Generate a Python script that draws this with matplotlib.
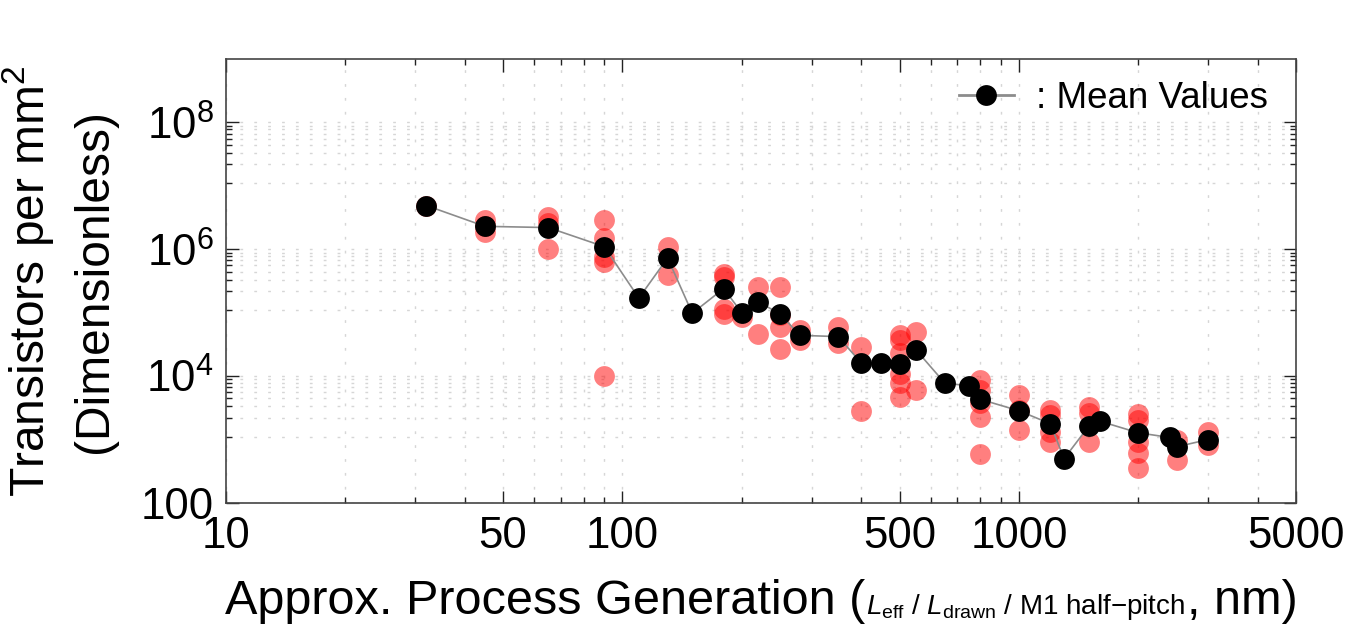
import matplotlib
matplotlib.use("Agg")
import matplotlib.pyplot as plt
from matplotlib.lines import Line2D
from matplotlib.offsetbox import TextArea, HPacker, AnchoredOffsetbox
import numpy as np

# ---------------- data ----------------
mean_nodes = [32, 45, 65, 90, 110, 130, 150, 180, 200, 220, 250, 280, 350, 400,
              450, 500, 550, 650, 750, 800, 1000, 1200, 1300, 1500, 1600, 2000,
              2400, 2500, 3000]
mean_values = [4.9e6, 2.3e6, 2.2e6, 1.1e6, 1.7e5, 7.3e5, 9.8e4, 2.4e5, 1.0e5,
               1.48e5, 9.6e4, 4.4e4, 4.2e4, 1.62e4, 1.62e4, 1.55e4, 2.6e4,
               7.8e3, 7.0e3, 4.3e3, 2.85e3, 1.78e3, 500, 1.62e3, 1.95e3,
               1.28e3, 1.08e3, 770, 1.0e3]

chip_nodes = [32,
              45, 45, 45,
              65, 65, 65,
              90, 90, 90, 90, 90,
              130, 130,
              180, 180, 180, 180,
              200,
              220, 220,
              250, 250, 250, 250,
              280, 280,
              350, 350,
              400, 400,
              500, 500, 500, 500, 500, 500,
              550, 550,
              800, 800, 800, 800, 800,
              1000, 1000, 1000,
              1200, 1200, 1200, 1200,
              1500, 1500, 1500,
              2000, 2000, 2000, 2000, 2000,
              2500, 2500,
              3000, 3000]
chip_values = [4.9e6,
               2.9e6, 1.9e6, 2.3e6,
               3.2e6, 2.6e6, 1.0e6,
               2.9e6, 1.5e6, 7.6e5, 6.3e5, 1.0e4,
               1.08e6, 3.9e5,
               4.1e5, 3.6e5, 1.16e5, 9.7e4,
               8.6e4,
               2.56e5, 4.7e4,
               2.56e5, 9.1e4, 6.0e4, 2.7e4,
               5.3e4, 3.7e4,
               6.0e4, 3.3e4,
               2.9e4, 2.85e3,
               4.4e4, 3.7e4, 2.3e4, 1.1e4, 7.7e3, 4.7e3,
               5.0e4, 6.0e3,
               8.6e3, 6.0e3, 3.8e3, 2.3e3, 590,
               5.0e3, 2.9e3, 1.4e3,
               2.9e3, 2.4e3, 1.3e3, 930,
               3.3e3, 2.6e3, 930,
               2.5e3, 2.0e3, 930, 620, 350,
               1.0e3, 475,
               1.3e3, 820]

x_major = [10, 50, 100, 500, 1000, 5000]
x_major_labels = ["10", "50", "100", "500", "1000", "5000"]
y_major = [1e2, 1e4, 1e6, 1e8]
y_major_labels = ["100", r"$\mathregular{10^{4}}$", r"$\mathregular{10^{6}}$",
                  r"$\mathregular{10^{8}}$"]

# ---------------- style ----------------
FONT = "Liberation Sans"
plt.rcParams["font.family"] = [FONT, "DejaVu Sans"]
plt.rcParams["mathtext.fontset"] = "custom"
plt.rcParams["mathtext.rm"] = FONT
plt.rcParams["mathtext.it"] = FONT + ":italic"
plt.rcParams["mathtext.bf"] = FONT + ":bold"

fig = plt.figure(figsize=(13.5, 6.25), dpi=100)
ax = fig.add_axes([226 / 1350, 1 - 503 / 625, (1296 - 226) / 1350, (503 - 59) / 625])

ax.set_xscale("log")
ax.set_yscale("log")
ax.set_xlim(10, 5000)
ax.set_ylim(100, 1e9)

# grid
grid_kw = dict(color="#d6d6d6", linewidth=1.0, linestyle=(0, (2, 8)))
ax.xaxis.grid(True, which="both", **grid_kw)
ax.yaxis.grid(True, which="both", **grid_kw)
ax.set_axisbelow(True)

# x ticks
ax.set_xticks(x_major)
ax.set_xticklabels(x_major_labels)
x_minor = []
for dec in [10, 100, 1000]:
    for j in range(2, 10):
        v = dec * j
        if v < 5000 and v not in x_major:
            x_minor.append(v)
ax.set_xticks(x_minor, minor=True)
ax.xaxis.set_minor_formatter(matplotlib.ticker.NullFormatter())

# y ticks
ax.set_yticks(y_major)
ax.set_yticklabels(y_major_labels)
y_minor = []
for M in [1e4, 1e6, 1e8]:
    for j in range(1, 9):
        y_minor.append(M * j / 9.0)
ax.set_yticks(y_minor, minor=True)
ax.yaxis.set_minor_formatter(matplotlib.ticker.NullFormatter())

ax.tick_params(which="both", direction="in", top=True, right=True,
               colors="#222222", width=1.0)
ax.tick_params(which="major", length=9, labelsize=31.5, pad=9, labelcolor="black")
ax.tick_params(which="minor", length=4)
for s in ax.spines.values():
    s.set_color("#444444")
    s.set_linewidth(1.2)

# data
ax.plot(chip_nodes, chip_values, linestyle="none", marker="o", markersize=15,
        color="red", alpha=0.5, markeredgewidth=0, zorder=2)
ax.plot(mean_nodes, mean_values, color="#8c8c8c", linewidth=1.2, marker="o",
        markersize=15, markerfacecolor="black", markeredgecolor="black",
        markeredgewidth=0, zorder=3)

# legend
handle = Line2D([], [], color="#8c8c8c", linewidth=2, marker="o", markersize=15,
                markerfacecolor="black", markeredgecolor="black", markeredgewidth=0)
ax.legend([handle], [": Mean Values"], loc="center right",
          bbox_to_anchor=(1268 / 1350, 1 - 98 / 625), bbox_transform=fig.transFigure,
          frameon=False, fontsize=26.5, handlelength=1.5, handletextpad=0.6,
          borderpad=0, borderaxespad=0)

# y label (two centered lines)
fig.text(28 / 1350, 1 - 281 / 625, r"Transistors per mm$^{\mathregular{2}}$",
         rotation=90, ha="center", va="center", fontsize=34.5)
fig.text(95 / 1350, 1 - 281 / 625, "(Dimensionless)",
         rotation=90, ha="center", va="center", fontsize=34.5)

# x label with mixed sizes
big = dict(size=35, color="black", family=FONT)
small = dict(size=20, color="black", family=FONT)
small_text = (r"$L_{\mathregular{eff}}$ / $L_{\mathregular{drawn}}$ / M1 half"
              + "\u2212" + "pitch")
parts = [TextArea("Approx. Process Generation (", textprops=big),
         TextArea(small_text, textprops=small),
         TextArea(", nm)", textprops=big)]
pack = HPacker(children=parts, align="baseline", pad=0, sep=1)
box = AnchoredOffsetbox(loc="lower center", child=pack, pad=0, borderpad=0,
                        frameon=False, bbox_to_anchor=(761 / 1350, 1 - 624 / 625),
                        bbox_transform=fig.transFigure)
fig.add_artist(box)

fig.savefig("out.png", dpi=100)
